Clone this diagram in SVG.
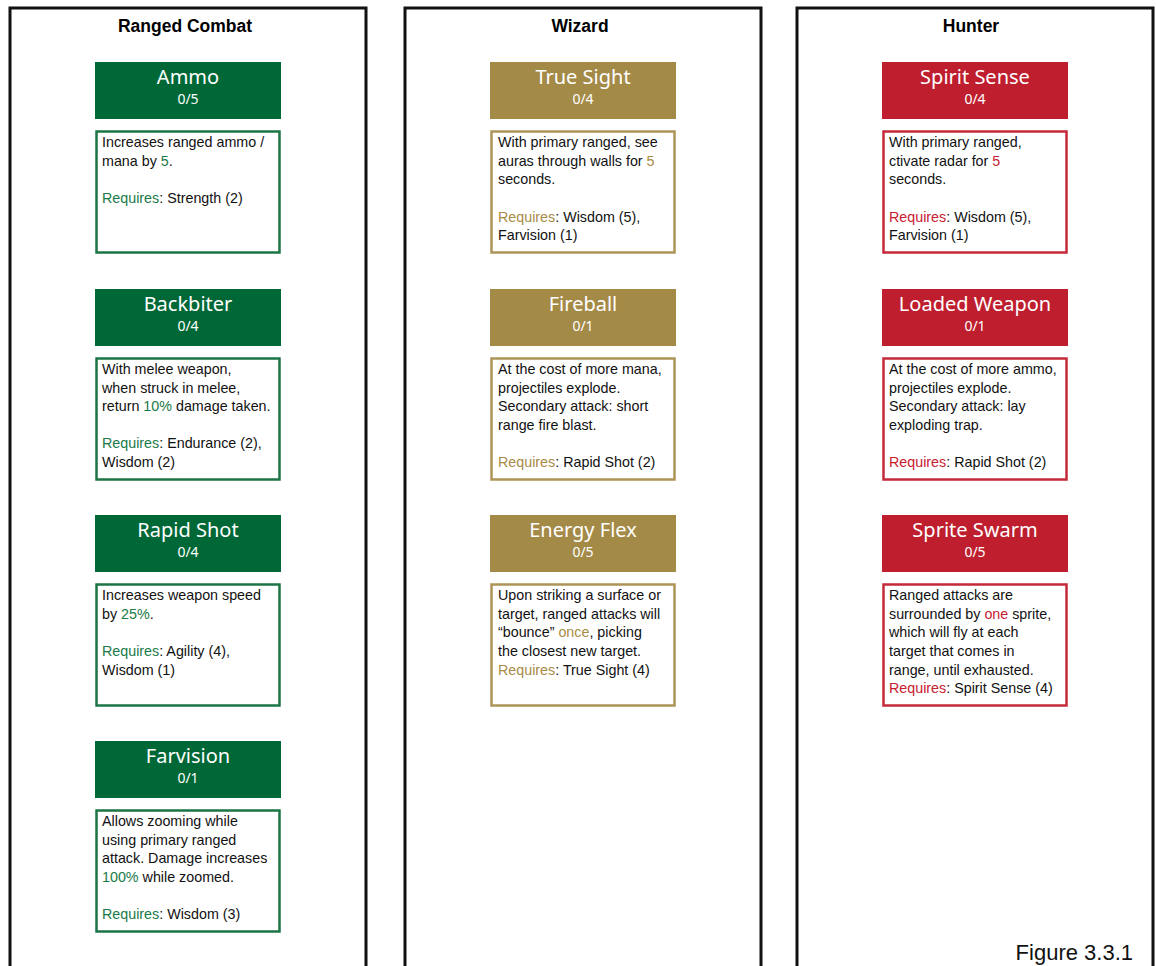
<svg xmlns="http://www.w3.org/2000/svg" width="1156" height="966" viewBox="0 0 1156 966">
<style>
.panel{fill:none;stroke:#111;stroke-width:3}
.hdr{font-family:"Liberation Sans",Arial,sans-serif;font-weight:bold;font-size:17.5px;fill:#000;text-anchor:middle}
.tt{font-family:"Noto Sans","Liberation Sans",sans-serif;font-size:20px;fill:#fff;text-anchor:middle}
.ts{font-family:"Noto Sans","Liberation Sans",sans-serif;font-size:14px;fill:#fff;text-anchor:middle}
.d{font-family:"Liberation Sans",Arial,sans-serif;font-size:14.3px;fill:#111}
.g .head{fill:#006837}.g .desc{fill:#fff;stroke:#1a7445;stroke-width:2.5}.g .hl{fill:#1a7a48}
.w .head{fill:#a48a47}.w .desc{fill:#fff;stroke:#ad9458;stroke-width:2.5}.w .hl{fill:#a88b45}
.r .head{fill:#be1e2d}.r .desc{fill:#fff;stroke:#c42a3a;stroke-width:2.5}.r .hl{fill:#c8202f}
.fig{font-family:"Liberation Sans",Arial,sans-serif;font-size:22px;fill:#111;text-anchor:end}
</style>
<g id="panels">
<path class="panel" d="M10,966 V8 H366 V966"/>
<path class="panel" d="M405,966 V8 H761 V966"/>
<path class="panel" d="M797,966 V8 H1153 V966"/>
<text class="hdr" x="185" y="32">Ranged Combat</text>
<text class="hdr" x="580" y="32">Wizard</text>
<text class="hdr" x="971" y="32">Hunter</text>
</g>
<g id="connectors"/>

<!-- Column 1 -->
<g id="ammo" class="g">
<rect class="head" x="95" y="62" width="186" height="57"/>
<text class="tt" x="188" y="84">Ammo</text><text class="ts" x="188" y="104">0/5</text>
<rect class="desc" x="96.5" y="131.5" width="183" height="121"/>
<text class="d" x="102"><tspan x="102" y="147">Increases ranged ammo /</tspan><tspan x="102" y="166">mana by <tspan class="hl">5</tspan>.</tspan><tspan x="102" y="203"><tspan class="hl">Requires</tspan>: Strength (2)</tspan></text>
</g>
<g id="backbiter" class="g">
<rect class="head" x="95" y="289" width="186" height="57"/>
<text class="tt" x="188" y="311">Backbiter</text><text class="ts" x="188" y="331">0/4</text>
<rect class="desc" x="96.5" y="358.5" width="183" height="121"/>
<text class="d"><tspan x="102" y="374">With melee weapon,</tspan><tspan x="102" y="393">when struck in melee,</tspan><tspan x="102" y="411">return <tspan class="hl">10%</tspan> damage taken.</tspan><tspan x="102" y="448"><tspan class="hl">Requires</tspan>: Endurance (2),</tspan><tspan x="102" y="467">Wisdom (2)</tspan></text>
</g>
<g id="rapid-shot" class="g">
<rect class="head" x="95" y="515" width="186" height="57"/>
<text class="tt" x="188" y="537">Rapid Shot</text><text class="ts" x="188" y="557">0/4</text>
<rect class="desc" x="96.5" y="584.5" width="183" height="121"/>
<text class="d"><tspan x="102" y="600">Increases weapon speed</tspan><tspan x="102" y="619">by <tspan class="hl">25%</tspan>.</tspan><tspan x="102" y="656"><tspan class="hl">Requires</tspan>: Agility (4),</tspan><tspan x="102" y="675">Wisdom (1)</tspan></text>
</g>
<g id="farvision" class="g">
<rect class="head" x="95" y="741" width="186" height="57"/>
<text class="tt" x="188" y="763">Farvision</text><text class="ts" x="188" y="783">0/1</text>
<rect class="desc" x="96.5" y="810.5" width="183" height="121"/>
<text class="d"><tspan x="102" y="826">Allows zooming while</tspan><tspan x="102" y="845">using primary ranged</tspan><tspan x="102" y="863">attack. Damage increases</tspan><tspan x="102" y="882"><tspan class="hl">100%</tspan> while zoomed.</tspan><tspan x="102" y="919"><tspan class="hl">Requires</tspan>: Wisdom (3)</tspan></text>
</g>

<!-- Column 2 -->
<g id="true-sight" class="w">
<rect class="head" x="490" y="62" width="186" height="57"/>
<text class="tt" x="583" y="84">True Sight</text><text class="ts" x="583" y="104">0/4</text>
<rect class="desc" x="491.5" y="131.5" width="183" height="121"/>
<text class="d"><tspan x="498" y="147">With primary ranged, see</tspan><tspan x="498" y="166">auras through walls for <tspan class="hl">5</tspan></tspan><tspan x="498" y="184">seconds.</tspan><tspan x="498" y="222"><tspan class="hl">Requires</tspan>: Wisdom (5),</tspan><tspan x="498" y="240">Farvision (1)</tspan></text>
</g>
<g id="fireball" class="w">
<rect class="head" x="490" y="289" width="186" height="57"/>
<text class="tt" x="583" y="311">Fireball</text><text class="ts" x="583" y="331">0/1</text>
<rect class="desc" x="491.5" y="358.5" width="183" height="121"/>
<text class="d"><tspan x="498" y="374">At the cost of more mana,</tspan><tspan x="498" y="393">projectiles explode.</tspan><tspan x="498" y="411">Secondary attack: short</tspan><tspan x="498" y="430">range fire blast.</tspan><tspan x="498" y="467"><tspan class="hl">Requires</tspan>: Rapid Shot (2)</tspan></text>
</g>
<g id="energy-flex" class="w">
<rect class="head" x="490" y="515" width="186" height="57"/>
<text class="tt" x="583" y="537">Energy Flex</text><text class="ts" x="583" y="557">0/5</text>
<rect class="desc" x="491.5" y="584.5" width="183" height="121"/>
<text class="d"><tspan x="498" y="600">Upon striking a surface or</tspan><tspan x="498" y="619">target, ranged attacks will</tspan><tspan x="498" y="637">“bounce” <tspan class="hl">once</tspan>, picking</tspan><tspan x="498" y="656">the closest new target.</tspan><tspan x="498" y="675"><tspan class="hl">Requires</tspan>: True Sight (4)</tspan></text>
</g>

<!-- Column 3 -->
<g id="spirit-sense" class="r">
<rect class="head" x="882" y="62" width="186" height="57"/>
<text class="tt" x="975" y="84">Spirit Sense</text><text class="ts" x="975" y="104">0/4</text>
<rect class="desc" x="883.5" y="131.5" width="183" height="121"/>
<text class="d"><tspan x="889" y="147">With primary ranged,</tspan><tspan x="889" y="166">ctivate radar for <tspan class="hl">5</tspan></tspan><tspan x="889" y="184">seconds.</tspan><tspan x="889" y="222"><tspan class="hl">Requires</tspan>: Wisdom (5),</tspan><tspan x="889" y="240">Farvision (1)</tspan></text>
</g>
<g id="loaded-weapon" class="r">
<rect class="head" x="882" y="289" width="186" height="57"/>
<text class="tt" x="975" y="311">Loaded Weapon</text><text class="ts" x="975" y="331">0/1</text>
<rect class="desc" x="883.5" y="358.5" width="183" height="121"/>
<text class="d"><tspan x="889" y="374">At the cost of more ammo,</tspan><tspan x="889" y="393">projectiles explode.</tspan><tspan x="889" y="411">Secondary attack: lay</tspan><tspan x="889" y="430">exploding trap.</tspan><tspan x="889" y="467"><tspan class="hl">Requires</tspan>: Rapid Shot (2)</tspan></text>
</g>
<g id="sprite-swarm" class="r">
<rect class="head" x="882" y="515" width="186" height="57"/>
<text class="tt" x="975" y="537">Sprite Swarm</text><text class="ts" x="975" y="557">0/5</text>
<rect class="desc" x="883.5" y="584.5" width="183" height="121"/>
<text class="d"><tspan x="889" y="600">Ranged attacks are</tspan><tspan x="889" y="619">surrounded by <tspan class="hl">one</tspan> sprite,</tspan><tspan x="889" y="637">which will fly at each</tspan><tspan x="889" y="656">target that comes in</tspan><tspan x="889" y="675">range, until exhausted.</tspan><tspan x="889" y="693"><tspan class="hl">Requires</tspan>: Spirit Sense (4)</tspan></text>
</g>

<text class="fig" x="1133" y="960">Figure 3.3.1</text>
</svg>
